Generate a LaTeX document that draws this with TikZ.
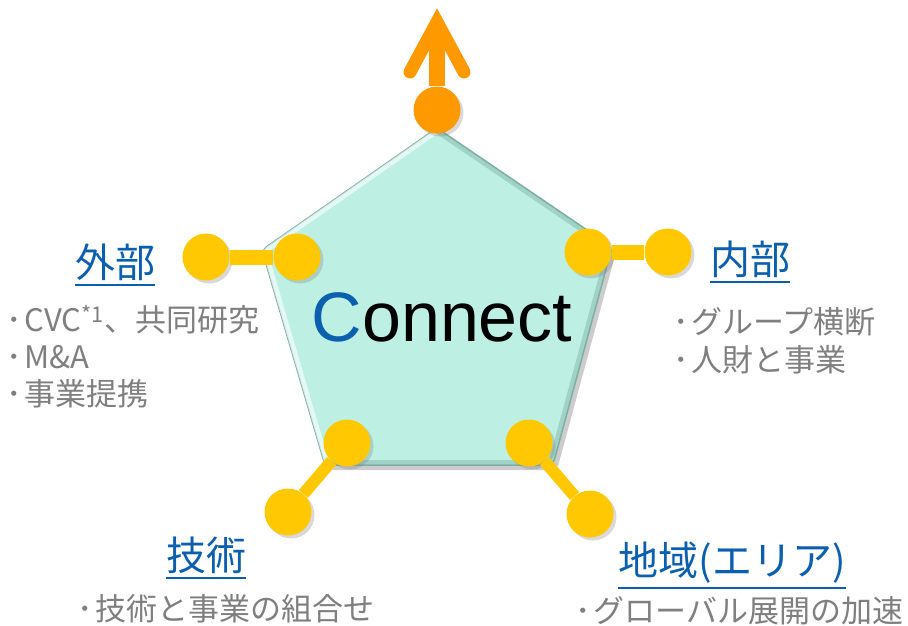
\documentclass[tikz,border=0pt]{standalone}
\usepackage{fontspec}
\setmainfont{Noto Sans CJK JP}
\newfontfamily\connectfont{Liberation Sans}
\usetikzlibrary{shadows}
\definecolor{mint}{HTML}{BDF0E3}
\definecolor{mintedge}{HTML}{7DAFA3}
\definecolor{sun}{HTML}{FFC800}
\definecolor{tangerine}{HTML}{FF9900}
\definecolor{ink}{HTML}{0B5FAF}
\definecolor{ash}{HTML}{7F7F7F}
\newcommand{\pt}{･\hspace{3pt}}
\begin{document}
\begin{tikzpicture}[x=1pt, y=-1pt]
	\tikzstyle{joint}=[circle, fill=sun, minimum size=47pt, inner sep=0pt, drop shadow={opacity=0.3, shadow xshift=3pt, shadow yshift=-3pt}]
	\tikzstyle{bar}=[line width=15pt, sun]
	\tikzstyle{heading}=[inner sep=0pt, ink, font=\fontsize{40}{40}\selectfont]
	\tikzstyle{item}=[inner sep=0pt, anchor=west, ash, font=\fontsize{31}{31}\selectfont]
	\useasboundingbox (0,0) rectangle (908,625);
	%%% PENTAGON %%%
	\coordinate (ptop) at (437,128);
	\coordinate (pul) at (262,250);
	\coordinate (pur) at (612,247);
	\coordinate (pbr) at (553,465);
	\coordinate (pbl) at (325,465);
	%pentagon body
	\filldraw[fill=mint, draw=mintedge, line width=1.5pt, rounded corners=5pt,
	drop shadow={opacity=0.4, shadow xshift=4pt, shadow yshift=-5pt}] (ptop) -- (pur) -- (pbr) -- (pbl) -- (pul) -- cycle;
	\begin{scope}
		\clip[rounded corners=5pt] (ptop) -- (pur) -- (pbr) -- (pbl) -- (pul) -- cycle;
		%light top-left bevel
		\draw[white, opacity=0.6, line width=10pt] (pbl) -- (pul) -- (ptop);
		%dark right and bottom bevel
		\draw[mintedge, opacity=0.45, line width=10pt] (ptop) -- (pur) -- (pbr) -- (pbl);
	\end{scope}
	%title
	\node (connect) at (442,317) {\connectfont\fontsize{70}{70}\selectfont\textcolor{ink}{C}onnect};
	%%% TOP ARROW %%%
	\node[joint, fill=tangerine] (pivot) at (437,110) {};
	\coordinate (tip) at (437,22);
	\coordinate (armleft) at (410,72);
	\coordinate (armright) at (464,72);
	\draw[line width=16pt, tangerine] (pivot) -- ([yshift=-6pt]tip);
	\draw[line width=13pt, tangerine, line cap=round, line join=miter] (armleft) -- (tip) -- (armright);
	%%% LEFT PAIR %%%
	\node[joint] (leftout) at (206,257) {};
	\node[joint] (leftin) at (297,257) {};
	\draw[bar] (leftout) -- (leftin);
	%%% RIGHT PAIR %%%
	\node[joint] (rightin) at (588,252) {};
	\node[joint] (rightout) at (668,252) {};
	\draw[bar] (rightin) -- (rightout);
	%%% BOTTOM LEFT PAIR %%%
	\node[joint] (botleftin) at (347,443) {};
	\node[joint] (botleftout) at (288,512) {};
	\draw[bar, line width=12pt] (botleftin) -- (botleftout);
	%%% BOTTOM RIGHT PAIR %%%
	\node[joint] (botrightin) at (529,443) {};
	\node[joint] (botrightout) at (590,514) {};
	\draw[bar, line width=12pt] (botrightin) -- (botrightout);
	%%% HEADINGS %%%
	\node[heading] (gaibu) at (115,262) {外部};
	\draw[ink, line width=2pt] ([yshift=-4pt]gaibu.south west) -- ([yshift=-4pt]gaibu.south east);
	\node[heading] (naibu) at (750,259) {内部};
	\draw[ink, line width=2pt] ([yshift=-4pt]naibu.south west) -- ([yshift=-4pt]naibu.south east);
	\node[heading] (gijutsu) at (206,555) {技術};
	\draw[ink, line width=2pt] ([yshift=-4pt]gijutsu.south west) -- ([yshift=-4pt]gijutsu.south east);
	\node[heading] (chiiki) at (732,563) {地域(エリア)};
	\draw[ink, line width=2pt] ([yshift=-4pt]chiiki.south west) -- ([yshift=-4pt]chiiki.south east);
	%%% ITEMS %%%
	%outside
	\node[item] (gaibua) at (6,320) {\pt CVC\textsuperscript{*1}、共同研究};
	\node[item] (gaibub) at (6,357) {\pt M\&A};
	\node[item] (gaibuc) at (6,394) {\pt 事業提携};
	%inside
	\node[item] (naibua) at (673,322) {\pt グループ横断};
	\node[item] (naibub) at (673,360) {\pt 人財と事業};
	%technology
	\node[item] (gijutsua) at (77,609) {\pt 技術と事業の組合せ};
	%region
	\node[item] (chiikia) at (575,611) {\pt グローバル展開の加速};
\end{tikzpicture}
\end{document}
